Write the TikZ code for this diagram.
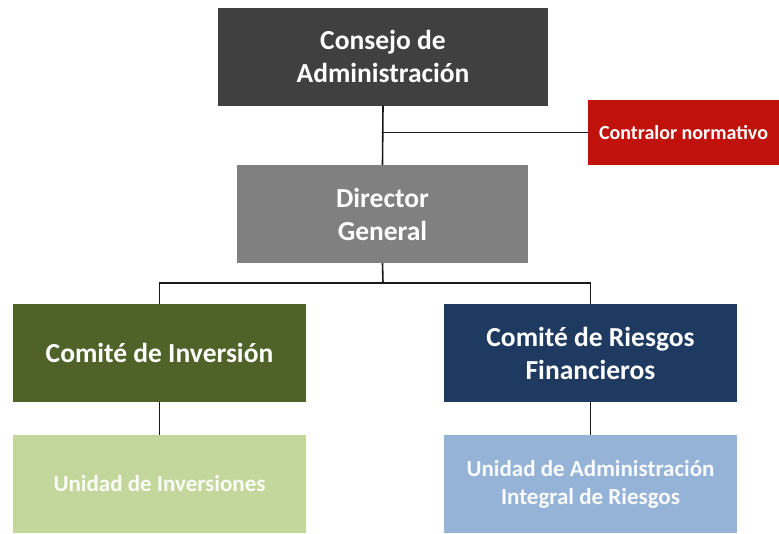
\documentclass[tikz,border=0pt]{standalone}
\usepackage{fontspec}
\setmainfont{Carlito}
\definecolor{cconsejo}{HTML}{404040}
\definecolor{cdirector}{HTML}{808080}
\definecolor{ccontralor}{HTML}{C0120A}
\definecolor{cinv}{HTML}{4F6228}
\definecolor{criesgo}{HTML}{1F3A60}
\definecolor{cuinv}{HTML}{C3D69B}
\definecolor{curiesgo}{HTML}{95B3D7}
\definecolor{cline}{HTML}{1A1A1A}
\begin{document}
\begin{tikzpicture}[x=1pt,y=-1pt,
  box/.style={rectangle, inner sep=0pt, align=center, text=white, font=\bfseries},
  big/.style={box, minimum width=291pt, minimum height=98pt, font=\fontsize{27.5}{33}\selectfont\bfseries},
  small/.style={box, minimum width=293pt, minimum height=98pt, font=\fontsize{23}{28}\selectfont\bfseries},
  conn/.style={draw=cline, line width=1.6pt}]
\fill[white] (0,0) rectangle (779,533);
\useasboundingbox (0,0) rectangle (779,533);
\node[big, fill=cconsejo, minimum width=330pt] (consejo) at (383,56.5) {Consejo de\\Administración};
\node[box, fill=ccontralor, minimum width=191pt, minimum height=65pt, font=\fontsize{20}{24}\selectfont\bfseries] (contralor) at (683.5,132.5) {Contralor normativo};
\node[big, fill=cdirector] (director) at (382.5,214) {Director\\General};
\node[big, fill=cinv, minimum width=293pt] (cinv) at (159.5,353) {Comité de Inversión};
\node[big, fill=criesgo, minimum width=293pt] (criesgo) at (590.5,353) {Comité de Riesgos\\Financieros};
\node[small, fill=cuinv, text=white!92!cuinv] (uinv) at (159.5,484) {Unidad de Inversiones};
\node[small, fill=curiesgo, text=white!95!curiesgo] (uriesgo) at (590.5,484) {Unidad de Administración\\Integral de Riesgos};
\coordinate (j1) at (consejo.south |- contralor.west);
\coordinate (bus) at (383,283);
\draw[conn] (consejo.south) -- (director.north);
\draw[conn] (j1) -- (contralor.west);
\draw[conn] (director.south) -- (bus);
\draw[conn] (cinv.north) |- (bus) -| (criesgo.north);
\draw[conn] (cinv.south) -- (uinv.north);
\draw[conn] (criesgo.south) -- (uriesgo.north);
\end{tikzpicture}
\end{document}
